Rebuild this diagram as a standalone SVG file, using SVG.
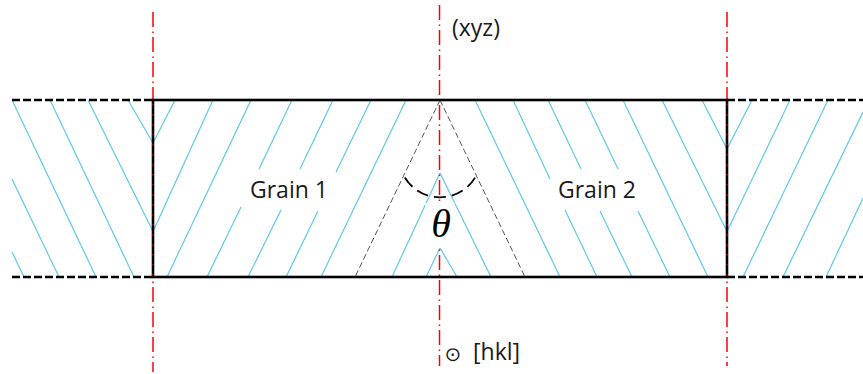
<svg xmlns="http://www.w3.org/2000/svg" width="863" height="374" viewBox="0 0 863 374">
<style>
.h{stroke:#5fc8ee;stroke-width:1.2;fill:none}
.b{stroke:#000;stroke-width:2.6;fill:none}
.d{stroke:#000;stroke-width:2.6;stroke-dasharray:8 3;fill:none}
.r{stroke:#f00;stroke-width:1.5;stroke-dasharray:15 4.500 1.500 4;fill:none}
.s{stroke:#f00;stroke-width:1;stroke-dasharray:1.500 8.500;fill:none}
.g{stroke:#555;stroke-width:1;stroke-dasharray:6 3;fill:none}
.t{font-family:"Open Sans","Noto Sans",sans-serif;font-size:23px;fill:#1a1a1a}
</style>
<rect width="863" height="374" fill="#fff"/>
<g id="hatching">
<path class="h" d="M12 100L96 277M50 100L134 277M88 100L153 231.500M128 100L153 143M12 179L59 277M12 252L24 277"/>
<path class="h" d="M175 100L153 143M213 100L153 231.500M251 100L167 277M292 100L259 169M241 207L207 277M281 210L248 277M333 100L300 169M371 100L336 172M406 100L321 277M318 211L286 277"/>
<path class="h" d="M440 173L392 277M440 173L491 277M440 248L426 277M440 248L457 277"/>
<path class="h" d="M475 100L560 277M513 100L550 179M548 100L581 169M585 100L618 169M623 100L708 277M662 100L727 231.500M702 100L727 149M565 210L597 277M600 211L632 277M638 211L670 277"/>
<path class="h" d="M752 100L727 149M790 100L727 231.500M828 100L743 277M863 112L783 277M863 198L826 277"/>
</g>
<g id="connectors">
<path class="r" d="M153 12V372M439.500 5V366M727 12V366"/>
<path class="g" d="M440 100L355 277M440 100L525 277"/>
<path d="M404 176A41 41 0 0 0 476 176" fill="none" stroke="#000" stroke-width="1.8" stroke-dasharray="12 6" stroke-dashoffset="16.300"/>
<path class="d" d="M12 100H153M12 277H153M727 100H863M727 277H863"/>
</g>
<g id="grain-boundary"><rect class="b" x="153" y="100" width="574" height="177"/><path class="s" d="M153 104V277M727 104V277"/></g>
<g id="grain-1"><text class="t" x="250" y="198">Grain 1</text></g>
<g id="grain-2"><text class="t" x="558" y="198">Grain 2</text></g>
<g id="theta"><rect x="425" y="203" width="30" height="44" fill="#fff"/><text x="441" y="237" text-anchor="middle" font-family="Liberation Serif, serif" font-style="italic" font-size="40" fill="#000">θ</text></g>
<g id="plane"><text class="t" x="452" y="36">(xyz)</text></g>
<g id="direction"><text x="453" y="361" text-anchor="middle" font-family="DejaVu Sans, sans-serif" font-size="20" fill="#1a1a1a">⊙</text><text class="t" x="473" y="360">[hkl]</text></g>
</svg>
